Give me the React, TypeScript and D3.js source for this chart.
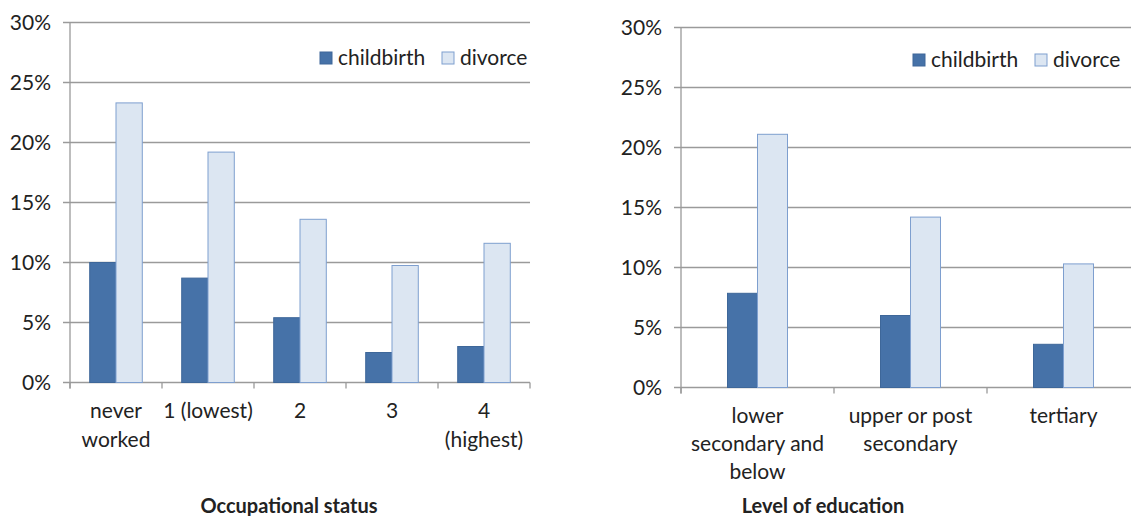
import React from "react";
import * as d3 from "d3";

const seriesNames = ["childbirth", "divorce"];

const occupationCategories = [["never", "worked"], ["1 (lowest)"], ["2"], ["3"], ["4", "(highest)"]];
const occupationChildbirth = [10.0, 8.7, 5.4, 2.5, 3.0];
const occupationDivorce = [23.3, 19.2, 13.6, 9.75, 11.6];

const educationCategories = [["lower", "secondary and", "below"], ["upper or post", "secondary"], ["tertiary"]];
const educationChildbirth = [7.85, 6.0, 3.6];
const educationDivorce = [21.1, 14.2, 10.3];

const yTicks = [0, 5, 10, 15, 20, 25, 30];

const FONT = "Lato, 'Open Sans', sans-serif";
const TEXT = "#222222";
const GRID = "#9a9a9a";
const FILLS = ["#4672A8", "#DCE6F2"];
const STROKES = ["#3E6799", "#7E9FCF"];
const FS = 21;

type PanelProps = {
  x0: number;
  x1: number;
  yTop: number;
  yBottom: number;
  categories: string[][];
  childbirth: number[];
  divorce: number[];
  barPadding: number;
  title: string;
  titleX: number;
  legendX: number;
  legendY: number;
  labelY: number;
  lineH: number;
};

function Panel(p: PanelProps) {
  const x = d3
    .scaleBand<number>()
    .domain(p.categories.map((_, i) => i))
    .range([p.x0, p.x1])
    .paddingInner(0)
    .paddingOuter(0);
  const y = d3.scaleLinear().domain([0, 30]).range([p.yBottom, p.yTop]);
  const inner = d3
    .scaleBand<number>()
    .domain([0, 1])
    .range([0, x.bandwidth()])
    .paddingOuter(p.barPadding)
    .paddingInner(0);
  const series = [p.childbirth, p.divorce];
  const ticksX = d3.range(p.categories.length + 1).map((i) => p.x0 + i * x.bandwidth());

  return (
    <g>
      {yTicks.map((t) => (
        <g key={t}>
          <line x1={p.x0 - 7} x2={Math.min(p.x1, 1131)} y1={y(t)} y2={y(t)} stroke={GRID} strokeWidth={1.3} />
          <text x={p.x0 - 19} y={y(t)} dy="0.35em" textAnchor="end" fontSize={FS} fill={TEXT} fontFamily={FONT}>
            {t}%
          </text>
        </g>
      ))}
      <line x1={p.x0} x2={p.x0} y1={p.yTop} y2={p.yBottom + 6} stroke={GRID} strokeWidth={1.3} />
      {ticksX.map((tx, i) => (
        <line key={i} x1={tx} x2={tx} y1={p.yBottom} y2={p.yBottom + 6} stroke={GRID} strokeWidth={1.3} />
      ))}
      {series.map((vals, s) =>
        vals.map((v, i) => (
          <rect
            key={`${s}-${i}`}
            x={(x(i) as number) + (inner(s) as number)}
            y={y(v)}
            width={inner.bandwidth()}
            height={y(0) - y(v)}
            fill={FILLS[s]}
            stroke={STROKES[s]}
            strokeWidth={1}
          />
        ))
      )}
      {p.categories.map((lines, i) => (
        <text
          key={i}
          x={(x(i) as number) + x.bandwidth() / 2}
          y={p.labelY}
          textAnchor="middle"
          fontSize={FS}
          fill={TEXT}
          fontFamily={FONT}
        >
          {lines.map((l, j) => (
            <tspan key={j} x={(x(i) as number) + x.bandwidth() / 2} dy={j === 0 ? 0 : p.lineH}>
              {l}
            </tspan>
          ))}
        </text>
      ))}
      <g transform={`translate(${p.legendX},${p.legendY})`}>
        {seriesNames.map((name, s) => {
          const off = s === 0 ? 0 : 122;
          return (
            <g key={name} transform={`translate(${off},0)`}>
              <rect x={0} y={-6} width={12} height={12} fill={FILLS[s]} stroke={STROKES[s]} strokeWidth={1} />
              <text x={18} y={0} dy="0.35em" fontSize={FS} fill={TEXT} fontFamily={FONT}>
                {name}
              </text>
            </g>
          );
        })}
      </g>
      <text x={p.titleX} y={513} textAnchor="middle" fontSize={20} fontWeight="bold" fill={TEXT} fontFamily={FONT}>
        {p.title}
      </text>
    </g>
  );
}

export default function App() {
  return (
    <svg
      width={1131}
      height={516}
      style={{ position: "absolute", left: 0, top: 0, background: "#fff" }}
    >
      <rect width={1131} height={516} fill="#fff" />
      <Panel
        x0={70}
        x1={530}
        yTop={22.5}
        yBottom={382.5}
        categories={occupationCategories}
        childbirth={occupationChildbirth}
        divorce={occupationDivorce}
        barPadding={0.75}
        title="Occupational status"
        titleX={289}
        legendX={320}
        legendY={58}
        labelY={418}
        lineH={29}
      />
      <Panel
        x0={681}
        x1={681 + 153 * 3}
        yTop={27.5}
        yBottom={387.5}
        categories={educationCategories}
        childbirth={educationChildbirth}
        divorce={educationDivorce}
        barPadding={1.55}
        title="Level of education"
        titleX={823}
        legendX={913}
        legendY={60}
        labelY={423}
        lineH={28}
      />
    </svg>
  );
}
